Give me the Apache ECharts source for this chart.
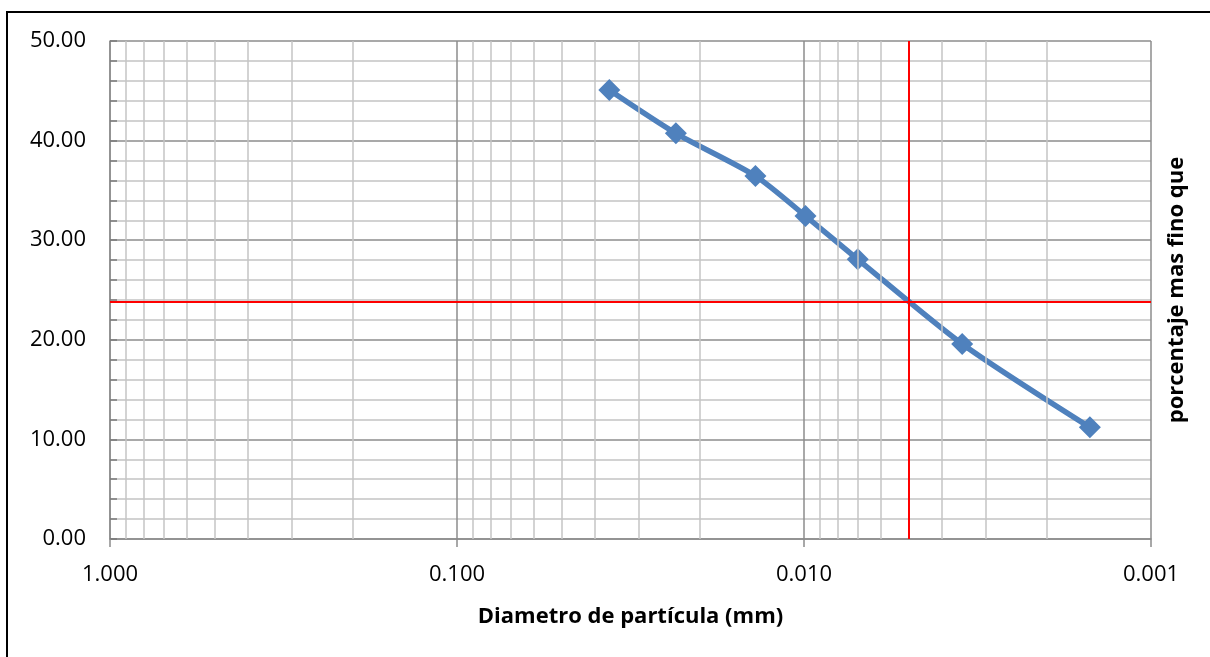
<!DOCTYPE html>
<html>
<head>
<meta charset="utf-8">
<script src="https://cdn.jsdelivr.net/npm/echarts@6/dist/echarts.min.js"></script>
<style>
  html, body { margin: 0; padding: 0; background: #fff; }
  #chart { width: 1210px; height: 657px; }
</style>
</head>
<body>
<div id="chart"></div>
<script>
// Grain size distribution (hydrometer results)
const diameters = [0.0364, 0.0234, 0.0138, 0.0099, 0.0070, 0.0035, 0.0015]; // mm
const percentFiner = [45.08, 40.73, 36.45, 32.43, 28.08, 19.58, 11.21];       // %

// Reference lines (red)
const refDiameter = 0.005;
const refPercent = 23.8;

// Axis setup
const xDecades = [1, 0.1, 0.01, 0.001];
const xMinorMultipliers = [2, 3, 4, 5, 6, 7, 8, 9];
const yMin = 0, yMax = 50, yStep = 10;

const FONT = 'Open Sans';
const MAJOR_GRID = '#8c8c8c';
const MINOR_GRID = '#c4c4c4';

// Minor vertical grid lines between decades (2..9 x decade)
const minorX = [];
for (let i = 1; i < xDecades.length; i++) {
  xMinorMultipliers.forEach(m => minorX.push(m * xDecades[i]));
}

const chart = echarts.init(document.getElementById('chart'), null, { renderer: 'canvas' });

chart.setOption({
  animation: false,
  backgroundColor: '#ffffff',
  grid: { left: 110, top: 41, width: 1041, height: 498, containLabel: false },
  xAxis: {
    type: 'log',
    logBase: 10,
    inverse: true,
    min: xDecades[xDecades.length - 1],
    max: xDecades[0],
    name: 'Diametro de partícula (mm)',
    nameLocation: 'middle',
    nameGap: 67,
    nameTextStyle: { fontFamily: FONT, fontWeight: 'bold', fontSize: 22, color: '#000' },
    axisLine: { show: true, lineStyle: { color: MAJOR_GRID, width: 1.5 } },
    axisTick: { show: true, inside: false, length: 8, lineStyle: { color: MAJOR_GRID, width: 1.5 } },
    axisLabel: {
      fontFamily: FONT, fontSize: 22, color: '#000', margin: 25,
      formatter: v => Number(v).toFixed(3)
    },
    splitLine: { show: true, lineStyle: { color: MAJOR_GRID, width: 1.5 } },
    minorTick: { show: false },
    minorSplitLine: { show: false }
  },
  yAxis: {
    type: 'value',
    min: yMin,
    max: yMax,
    interval: yStep,
    axisLine: { show: true, lineStyle: { color: MAJOR_GRID, width: 1.5 } },
    axisTick: { show: true, inside: true, length: 7, lineStyle: { color: '#7a7a7a', width: 1.5 } },
    minorTick: { show: true, splitNumber: 5, length: 7, lineStyle: { color: '#7a7a7a', width: 1.5 } },
    axisLabel: {
      fontFamily: FONT, fontSize: 22, color: '#000', margin: 24,
      formatter: v => Number(v).toFixed(2)
    },
    splitLine: { show: true, lineStyle: { color: MAJOR_GRID, width: 1.5 } },
    minorSplitLine: { show: true, lineStyle: { color: MINOR_GRID, width: 1.5 } }
  },
  series: [
    {
      // minor vertical grid lines for the log axis
      type: 'line',
      data: [],
      silent: true,
      z: 1,
      markLine: {
        silent: true,
        precision: 10,
        symbol: ['none', 'none'],
        label: { show: false },
        lineStyle: { color: MINOR_GRID, width: 1.5, type: 'solid' },
        data: minorX.map(v => ({ xAxis: v }))
      }
    },
    {
      type: 'line',
      data: diameters.map((d, i) => [d, percentFiner[i]]),
      smooth: 0.25,
      symbol: 'diamond',
      symbolSize: 22,
      lineStyle: { color: '#4F81BD', width: 5.5 },
      itemStyle: { color: '#4F81BD' },
      z: 3
    },
    {
      // red reference lines
      type: 'line',
      data: [],
      silent: true,
      z: 5,
      markLine: {
        silent: true,
        precision: 10,
        symbol: ['none', 'none'],
        label: { show: false },
        lineStyle: { color: '#ff0000', width: 2, type: 'solid' },
        data: [{ xAxis: refDiameter }, { yAxis: refPercent }]
      }
    }
  ],
  graphic: [
    {
      type: 'rect',
      shape: { x: 7, y: 12, width: 1400, height: 900 },
      style: { fill: 'none', stroke: '#000', lineWidth: 2 },
      silent: true
    },
    {
      type: 'text',
      x: 1177,
      y: 290,
      rotation: Math.PI / 2,
      style: {
        text: 'porcentaje mas fino que',
        fontFamily: FONT,
        fontWeight: 'bold',
        fontSize: 22,
        fill: '#000',
        align: 'center',
        verticalAlign: 'middle'
      }
    }
  ]
});
</script>
</body>
</html>
